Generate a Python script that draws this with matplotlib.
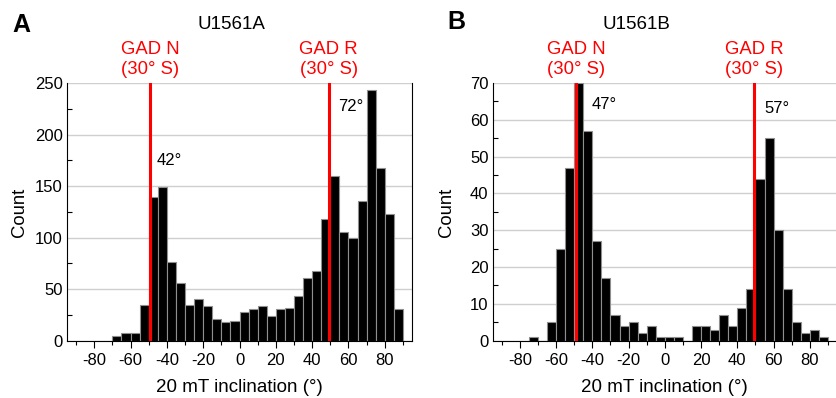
import numpy as np
import matplotlib
matplotlib.use("Agg")
import matplotlib.pyplot as plt
from matplotlib.ticker import MultipleLocator

plt.rcParams["font.family"] = ["Liberation Sans", "DejaVu Sans"]

# histogram counts, 5 degree bins (left edges)
edges_A = np.arange(-70, 90, 5)
counts_A = [5, 7, 7, 35, 139, 149, 76, 56, 35, 40, 34, 21, 18, 19, 28, 31,
            34, 24, 31, 32, 43, 61, 68, 118, 160, 105, 100, 136, 243, 168, 123, 31]
edges_B = np.arange(-75, 90, 5)
counts_B = [1, 0, 5, 25, 47, 70, 57, 27, 17, 7, 4, 5, 2, 4, 1, 1, 1,
            0, 4, 4, 3, 7, 4, 9, 14, 44, 55, 30, 14, 5, 2, 3, 1]

gad = 49.1  # GAD inclination at 30 S
titles = ["U1561A", "U1561B"]
letters = ["A", "B"]
ymax = [250, 70]
ystep = [50, 10]
peaks = [[(-45.4, 170, "42°"), (54.3, 222.6, "72°")],
         [(-40.5, 62.9, "47°"), (54.9, 61.8, "57°")]]

W, H = 836, 398
fig = plt.figure(figsize=(W/100, H/100), dpi=100)

axpos = [(67, 412), (492.7, 837)]
ytop, ybot = 83, 340.7
data = [(edges_A, counts_A), (edges_B, counts_B)]

for k in range(2):
    x0, x1 = axpos[k]
    ax = fig.add_axes([x0/W, 1-ybot/H, (x1-x0)/W, (ybot-ytop)/H])
    e, c = data[k]
    ax.bar(e, c, width=5, align="edge", color="black", edgecolor="#8f8f8f",
           linewidth=0.8, zorder=2)
    ax.set_xlim(-95, 95)
    ax.set_ylim(0, ymax[k])
    ax.yaxis.set_major_locator(MultipleLocator(ystep[k]))
    ax.yaxis.set_minor_locator(MultipleLocator(ystep[k]/2))
    ax.xaxis.set_major_locator(MultipleLocator(20))
    ax.xaxis.set_minor_locator(MultipleLocator(10))
    ax.grid(axis="y", which="major", color="#cfcfcf", lw=1.0, zorder=0)
    ax.set_axisbelow(True)
    ax.tick_params(axis="y", which="major", length=0, pad=3, labelsize=12)
    ax.tick_params(axis="y", which="minor", direction="in", length=3.6, width=0.8)
    ax.tick_params(axis="x", which="major", direction="out", length=5, width=0.8,
                   pad=4, labelsize=12)
    ax.tick_params(axis="x", which="minor", direction="out", length=3, width=0.8)
    ax.spines["top"].set_visible(False)
    if k == 1:
        ax.spines["right"].set_visible(False)
    for s in ["left", "bottom", "right"]:
        ax.spines[s].set_linewidth(0.8)
    ax.set_xticks(np.arange(-80, 81, 20))
    ax.set_xticklabels([str(v) for v in range(-80, 81, 20)])

    for g, name in [(-gad, "GAD N"), (gad, "GAD R")]:
        ax.axvline(g, color="red", lw=2.2, zorder=3)
        ax.text(g, 1.018, name + "\n(30° S)", color="red", ha="center", va="bottom",
                fontsize=13.3, linespacing=1.25,
                transform=ax.get_xaxis_transform())
    for px, py, lab in peaks[k]:
        ax.text(px, py, lab, ha="left", va="baseline", fontsize=12, zorder=4)

    xc = (x0 + x1) / 2
    fig.text(xc/W, 1-392/H, "20 mT inclination (°)", ha="center", va="baseline",
             fontsize=13.5)

fig.text(19.5/W, 1-212/H, "Count", rotation=90, ha="center", va="center", fontsize=13.3)
fig.text(447/W, 1-212/H, "Count", rotation=90, ha="center", va="center", fontsize=13.3)
fig.text(231/W, 1-29.3/H, titles[0], ha="center", va="baseline", fontsize=13.5)
fig.text(636/W, 1-29.3/H, titles[1], ha="center", va="baseline", fontsize=13.5)
fig.text(12/W, 1-32.3/H, letters[0], ha="left", va="baseline", fontsize=18, fontweight="bold")
fig.text(447/W, 1-29.3/H, letters[1], ha="left", va="baseline", fontsize=18, fontweight="bold")

fig.savefig("out.png", dpi=100)
